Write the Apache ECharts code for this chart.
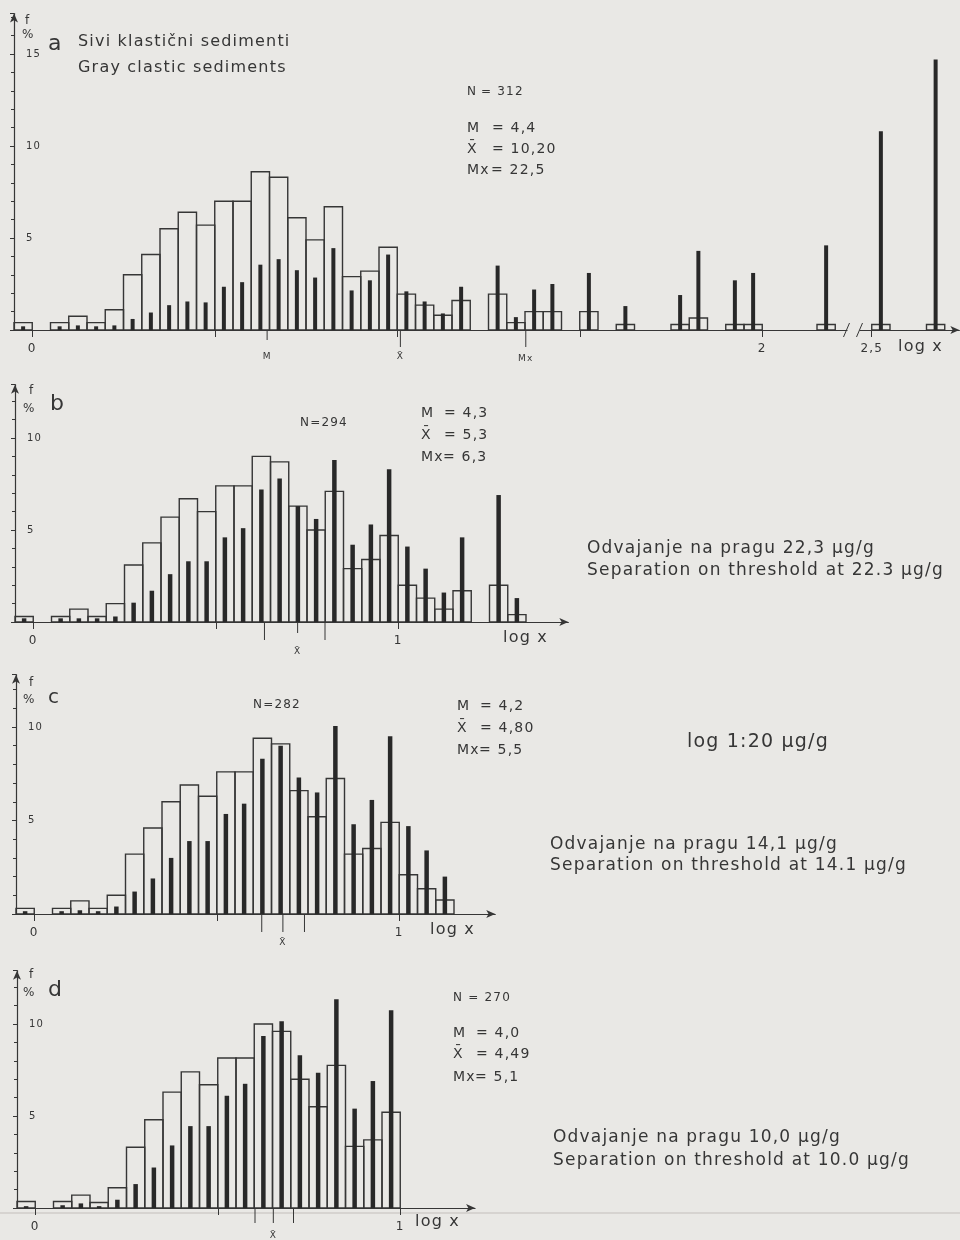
<!DOCTYPE html>
<html><head><meta charset="utf-8">
<script src="https://cdn.jsdelivr.net/npm/echarts@6/dist/echarts.min.js"></script>
<style>html,body{margin:0;padding:0;background:#e9e8e5}#c{width:960px;height:1240px}</style>
</head><body><div id="c"></div>
<script>
// ---------------- DATA ----------------
// histogram bins of log x, width 0.05, first bin starts at -0.05
const BIN_START = -0.05;
const BIN_W = 0.05;

// panel a – gray clastic sediments (open = all samples, solid = second distribution)
const openA  = [0.4,0,0.4,0.75,0.4,1.1,3.0,4.1,5.5,6.4,5.7,7.0,7.0,8.6,8.3,6.1,4.9,6.7,2.9,3.2,4.5,1.95,1.35,0.8,1.6,0,1.95,0.4,1.0,1.0,0,1.0,0,0.3,0,0,0.3,0.65,0,0.3,0.3,0,0,0,0.3];
const solidA = [0.2,0,0.2,0.25,0.2,0.25,0.6,0.95,1.35,1.55,1.5,2.35,2.6,3.55,3.85,3.25,2.85,4.45,2.15,2.7,4.1,2.1,1.55,0.9,2.35,0,3.5,0.7,2.2,2.5,0,3.1,0,1.3,0,0,1.9,4.3,0,2.7,3.1,0,0,0,4.6];
// bins beyond the axis break (lower edge in log x)
const farBinsA  = [2.50, 2.65];
const farOpenA  = [0.3, 0.3];
const farSolidA = [10.8, 14.7];

const openB  = [0.3,0,0.3,0.7,0.3,1.0,3.1,4.3,5.7,6.7,6.0,7.4,7.4,9.0,8.7,6.3,5.0,7.1,2.9,3.4,4.7,2.0,1.3,0.7,1.7,0,2.0,0.4];
const solidB = [0.2,0,0.2,0.2,0.2,0.3,1.05,1.7,2.6,3.3,3.3,4.6,5.1,7.2,7.8,6.3,5.6,8.8,4.2,5.3,8.3,4.1,2.9,1.6,4.6,0,6.9,1.3];

const openC  = [0.3,0,0.3,0.7,0.3,1.0,3.2,4.6,6.0,6.9,6.3,7.6,7.6,9.4,9.1,6.6,5.2,7.25,3.2,3.5,4.9,2.1,1.35,0.75];
const solidC = [0.15,0,0.15,0.2,0.15,0.4,1.2,1.9,3.0,3.9,3.9,5.35,5.9,8.3,9.0,7.3,6.5,10.05,4.8,6.1,9.5,4.7,3.4,2.0];

const openD  = [0.35,0,0.35,0.7,0.3,1.1,3.3,4.8,6.3,7.4,6.7,8.15,8.15,10.0,9.6,7.0,5.5,7.75,3.35,3.7,5.2];
const solidD = [0.1,0,0.15,0.25,0.1,0.45,1.3,2.2,3.4,4.45,4.45,6.1,6.75,9.35,10.15,8.3,7.35,11.35,5.4,6.9,10.75];

// statistics (µg/g): median M, mean X̄, Mx
const statNames = ['M', 'X̄', 'Mx'];
const statsA = [4.4, 10.20, 22.5];
const statsB = [4.3, 5.3, 6.3];
const statsC = [4.2, 4.80, 5.5];
const statsD = [4.0, 4.49, 5.1];
const statTextA = ['4,4', '10,20', '22,5'];
const statTextB = ['4,3', '5,3', '6,3'];
const statTextC = ['4,2', '4,80', '5,5'];
const statTextD = ['4,0', '4,49', '5,1'];
const nA = 312, nB = 294, nC = 282, nD = 270;

// x tick labels (log x)
const xLabelsA = [0, 2, 2.5];
const xLabelTextA = ['0', '2', '2,5'];
const xLabelsBCD = [0, 1];
const xLabelTextBCD = ['0', '1'];
const xTicksA = [0, 0.5, 1, 1.5, 2, 2.5];
const xTicksBCD = [0, 0.5, 1];
const yTickInterval = 5;

// axis break on panel a
const BREAK_FROM = 2.25, BREAK_SHIFT = 0.2;
const toDisp = v => v > BREAK_FROM + 0.01 ? v - BREAK_SHIFT : v;

// ---------------- LAYOUT / STYLE ----------------
const INK = '#363636';
const BG = '#e9e8e5';
const FONT = 'DejaVu Sans';
const PX_PER_LOG = 365;

// wide technical lettering: add letter spacing to canvas text
(function(){
  const P = CanvasRenderingContext2D.prototype, f = P.fillText;
  P.fillText = function(){ try { this.letterSpacing = '1.2px'; } catch(e){} return f.apply(this, arguments); };
})();

const panels = [
  {left:14, base:330, ppp:18.4, yMax:17.2, xMax:2.54, open:openA, solid:solidA, farBins:farBinsA, farOpen:farOpenA, farSolid:farSolidA,
   stats:statsA, ticks:xTicksA, labels:xLabelsA, labelText:xLabelTextA,
   statTick:[10,17,17], statLabel:[true,true,true], statLabelDy:[27,27,29], barW:4},
  {left:15, base:622, ppp:18.4, yMax:12.9, xMax:1.466, open:openB, solid:solidB,
   stats:statsB, ticks:xTicksBCD, labels:xLabelsBCD, labelText:xLabelTextBCD,
   statTick:[18,11,18], statLabel:[false,true,false], statLabelDy:[0,30,0], barW:4.5},
  {left:16, base:914, ppp:18.7, yMax:12.8, xMax:1.263, open:openC, solid:solidC,
   stats:statsC, ticks:xTicksBCD, labels:xLabelsBCD, labelText:xLabelTextBCD,
   statTick:[18,18,18], statLabel:[false,true,false], statLabelDy:[0,29,0], barW:4.5},
  {left:17, base:1208, ppp:18.4, yMax:12.9, xMax:1.205, open:openD, solid:solidD,
   stats:statsD, ticks:xTicksBCD, labels:xLabelsBCD, labelText:xLabelTextBCD,
   statTick:[15,15,15], statLabel:[false,true,false], statLabelDy:[0,28,0], barW:4.5}
];

const grids = [], xAxes = [], yAxes = [], series = [];

panels.forEach((p, i) => {
  grids.push({left:p.left, top:p.base - p.yMax*p.ppp, height:p.yMax*p.ppp,
              width:(p.xMax - BIN_START)*PX_PER_LOG, containLabel:false, outerBoundsMode:'none'});
  const lblDisp = p.labels.map(toDisp);
  xAxes.push({
    gridIndex:i, type:'value', min:BIN_START, max:p.xMax,
    axisLine:{show:true, onZero:false, symbol:['none','arrow'], symbolSize:[6,9], lineStyle:{color:INK, width:1.2}},
    axisTick:{show:true, customValues:p.ticks.map(toDisp), length:7, lineStyle:{color:INK, width:1}},
    axisLabel:{show:true, customValues:lblDisp, margin:13, color:INK, fontFamily:FONT, fontSize:12,
      formatter:(v)=>{ let k=0, d=1e9; lblDisp.forEach((x,j)=>{ if(Math.abs(x-v)<d){d=Math.abs(x-v);k=j;} }); return p.labelText[k]; }},
    splitLine:{show:false}
  });
  yAxes.push({
    gridIndex:i, type:'value', min:0, max:p.yMax, interval:yTickInterval,
    axisLine:{show:true, onZero:false, symbol:['none','arrow'], symbolSize:[6,9], lineStyle:{color:INK, width:1.2}},
    axisTick:{show:true, length:4, lineStyle:{color:INK}},
    minorTick:{show:true, splitNumber:5, length:3, lineStyle:{color:INK}},
    axisLabel:{show:true, inside:true, margin:12, color:INK, fontFamily:FONT, fontSize:10, showMaxLabel:false,
      formatter:(v)=> (v>0 && v % yTickInterval === 0) ? String(v) : ''},
    splitLine:{show:false}
  });

  // build bin data
  const openData = [], solidData = [];
  p.open.forEach((v, k) => { const x0 = BIN_START + k*BIN_W; openData.push([x0, x0+BIN_W, v]); });
  p.solid.forEach((v, k) => { const x0 = BIN_START + k*BIN_W; solidData.push([x0, x0+BIN_W, v]); });
  if (p.farBins) {
    p.farBins.forEach((b, k) => {
      openData.push([b - BREAK_SHIFT, b - BREAK_SHIFT + BIN_W, p.farOpen[k]]);
      solidData.push([b - BREAK_SHIFT, b - BREAK_SHIFT + BIN_W, p.farSolid[k]]);
    });
  }
  series.push({
    type:'custom', xAxisIndex:i, yAxisIndex:i, data:openData, z:3,
    renderItem:(params, api) => {
      const v = api.value(2); if (!v) return null;
      const a = api.coord([api.value(0), 0]), b = api.coord([api.value(1), v]);
      return {type:'rect', shape:{x:a[0], y:b[1], width:b[0]-a[0], height:a[1]-b[1]},
              style:{fill:'none', stroke:INK, lineWidth:1.4}};
    }
  });
  series.push({
    type:'custom', xAxisIndex:i, yAxisIndex:i, data:solidData, z:4,
    renderItem:(params, api) => {
      const v = api.value(2); if (!v) return null;
      const c = (api.value(0)+api.value(1))/2;
      const a = api.coord([c, 0]), b = api.coord([c, v]);
      return {type:'rect', shape:{x:a[0]-p.barW/2, y:b[1], width:p.barW, height:a[1]-b[1]},
              style:{fill:'#282828'}};
    }
  });
  // statistics ticks below the axis
  series.push({
    type:'custom', xAxisIndex:i, yAxisIndex:i, z:5,
    data:p.stats.map((s, k) => [Math.log10(s), k]),
    renderItem:(params, api) => {
      const k = api.value(1);
      const a = api.coord([api.value(0), 0]);
      const ch = [{type:'line', shape:{x1:a[0], y1:a[1], x2:a[0], y2:a[1]+p.statTick[k]}, style:{stroke:INK, lineWidth:1}}];
      if (p.statLabel[k]) ch.push({type:'text', style:{text:statNames[k], x:a[0], y:a[1]+p.statLabelDy[k],
        textAlign:'center', textVerticalAlign:'middle', align:'center', verticalAlign:'middle',
        fill:INK, fontFamily:FONT, fontSize:9}});
      return {type:'group', children:ch};
    }
  });
  if (p.farBins) {
    series.push({
      type:'custom', xAxisIndex:i, yAxisIndex:i, z:6, data:[[BREAK_FROM]],
      renderItem:(params, api) => {
        const a = api.coord([api.value(0), 0]);
        return {type:'group', children:[
          {type:'rect', shape:{x:a[0]-6, y:a[1]-2, width:12, height:4}, style:{fill:BG}},
          {type:'line', shape:{x1:a[0]-10, y1:a[1]+7, x2:a[0]-4, y2:a[1]-7}, style:{stroke:INK, lineWidth:1}},
          {type:'line', shape:{x1:a[0]+3, y1:a[1]+7, x2:a[0]+9, y2:a[1]-7}, style:{stroke:INK, lineWidth:1}}
        ]};
      }
    });
  }
});

// ---------------- TEXT ----------------
function T(text, x, y, size, align) {
  return {type:'text', x:x, y:y, z:10, style:{text:text, fill:INK, font:size+'px "'+FONT+'"',
    textAlign:align||'left', textVerticalAlign:'middle'}};
}
const texts = [
  // panel a
  T('f', 25, 21, 12), T('%', 22, 35, 12), T('a', 48, 44, 22),
  T('Sivi klastični sedimenti', 78, 42, 16), T('Gray clastic sediments', 78, 68, 16),
  T('N', 467, 92, 12), T('= ' + nA, 481, 92, 12),
  T('M', 467, 128, 14), T('= ' + statTextA[0], 492, 128, 14),
  T('X̄', 467, 149, 14), T('= ' + statTextA[1], 492, 149, 14),
  T('Mx', 467, 170, 14), T('= ' + statTextA[2], 491, 170, 14),
  T('log x', 898, 347, 16),
  // panel b
  T('f', 29, 391, 12), T('%', 23, 409, 12), T('b', 50, 404, 22),
  T('N=' + nB, 300, 423, 12),
  T('M', 421, 413, 14), T('= ' + statTextB[0], 444, 413, 14),
  T('X̄', 421, 435, 14), T('= ' + statTextB[1], 444, 435, 14),
  T('Mx', 421, 457, 14), T('= ' + statTextB[2], 443, 457, 14),
  T('Odvajanje na pragu 22,3 µg/g', 587, 549, 17),
  T('Separation on threshold at 22.3 µg/g', 587, 571, 17),
  T('log x', 503, 638, 16),
  // panel c
  T('f', 29, 683, 12), T('%', 23, 700, 12), T('c', 48, 698, 20),
  T('N=' + nC, 253, 705, 12),
  T('M', 457, 706, 14), T('= ' + statTextC[0], 480, 706, 14),
  T('X̄', 457, 728, 14), T('= ' + statTextC[1], 480, 728, 14),
  T('Mx', 457, 750, 14), T('= ' + statTextC[2], 479, 750, 14),
  T('log 1:20 µg/g', 687, 742, 19),
  T('Odvajanje na pragu 14,1 µg/g', 550, 845, 17),
  T('Separation on threshold at 14.1 µg/g', 550, 866, 17),
  T('log x', 430, 930, 16),
  // panel d
  T('f', 29, 975, 12), T('%', 23, 993, 12), T('d', 48, 990, 22),
  T('N = ' + nD, 453, 998, 12),
  T('M', 453, 1033, 14), T('= ' + statTextD[0], 476, 1033, 14),
  T('X̄', 453, 1054, 14), T('= ' + statTextD[1], 476, 1054, 14),
  T('Mx', 453, 1077, 14), T('= ' + statTextD[2], 475, 1077, 14),
  T('Odvajanje na pragu 10,0 µg/g', 553, 1138, 17),
  T('Separation on threshold at 10.0 µg/g', 553, 1161, 17),
  T('log x', 415, 1222, 16),
  {type:'line', z:0, shape:{x1:0, y1:1213, x2:960, y2:1213}, style:{stroke:'#cfcdc9', lineWidth:1.5}}
];

const chart = echarts.init(document.getElementById('c'), null, {renderer:'canvas'});
chart.setOption({
  backgroundColor:BG,
  animation:false,
  textStyle:{fontFamily:FONT},
  grid:grids, xAxis:xAxes, yAxis:yAxes, series:series, graphic:texts
});
</script></body></html>
